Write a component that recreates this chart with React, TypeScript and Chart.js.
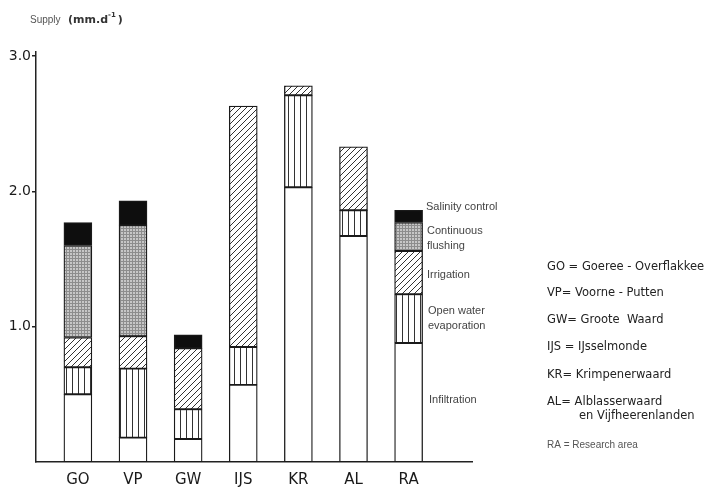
import React, { useEffect, useRef } from "react";
import { Chart, registerables } from "chart.js";

Chart.register(...registerables);

const categories = ["GO", "VP", "GW", "IJS", "KR", "AL", "RA"];
const infiltration = [0.5, 0.18, 0.17, 0.57, 2.03, 1.67, 0.88];
const openWater = [0.2, 0.51, 0.22, 0.28, 0.68, 0.19, 0.36];
const irrigation = [0.22, 0.24, 0.45, 1.78, 0.07, 0.47, 0.32];
const flushing = [0.68, 0.82, null, null, null, null, 0.21];
const salinity = [0.17, 0.18, 0.1, null, null, null, 0.09];
const yTicks = [1, 2, 3];
const segmentNames = ["Infiltration", "Open water evaporation", "Irrigation", "Continuous flushing", "Salinity control"];
const legendLines = [
  "GO = Goeree - Overflakkee",
  "VP= Voorne - Putten",
  "GW= Groote  Waard",
  "IJS = IJsselmonde",
  "KR= Krimpenerwaard",
  "AL= Alblasserwaard",
  "en Vijfheerenlanden",
  "RA = Research area",
];

function makeTile(w: number, h: number, draw: (c: CanvasRenderingContext2D) => void) {
  const cv = document.createElement("canvas");
  cv.width = w;
  cv.height = h;
  const c = cv.getContext("2d")!;
  draw(c);
  return c.createPattern(cv, "repeat")!;
}

export default function App() {
  const ref = useRef<HTMLCanvasElement | null>(null);
  useEffect(() => {
    document.body.style.margin = "0";
    const vertical = makeTile(6, 1, (c) => {
      c.fillStyle = "#fff";
      c.fillRect(0, 0, 6, 1);
      c.fillStyle = "#333";
      c.fillRect(0, 0, 1, 1);
    });
    const diagonal = makeTile(6, 6, (c) => {
      c.fillStyle = "#fff";
      c.fillRect(0, 0, 6, 6);
      c.strokeStyle = "#333";
      c.lineWidth = 1;
      c.beginPath();
      c.moveTo(0, 6);
      c.lineTo(6, 0);
      c.moveTo(-1, 1);
      c.lineTo(1, -1);
      c.moveTo(5, 7);
      c.lineTo(7, 5);
      c.stroke();
    });
    const stipple = makeTile(3, 3, (c) => {
      c.fillStyle = "#c6c6c6";
      c.fillRect(0, 0, 3, 3);
      c.fillStyle = "#8c8c8c";
      c.fillRect(0, 0, 3, 1);
      c.fillRect(0, 0, 1, 3);
    });
    const fills: any[] = ["#ffffff", vertical, diagonal, stipple, "#0e0e0e"];
    const series = [infiltration, openWater, irrigation, flushing, salinity];

    const textPlugin = {
      id: "texts",
      afterDraw(chart: any) {
        const ctx = chart.ctx as CanvasRenderingContext2D;
        ctx.save();
        ctx.textBaseline = "middle";
        ctx.textAlign = "left";
        // axis title
        ctx.fillStyle = "#555";
        ctx.font = "10px 'Liberation Sans'";
        ctx.fillText("Supply", 30, 20);
        ctx.fillStyle = "#333";
        ctx.font = "bold 11px 'DejaVu Sans'";
        ctx.fillText("(mm.d", 68, 20);
        let w = ctx.measureText("(mm.d").width;
        ctx.font = "bold 7px 'DejaVu Sans'";
        ctx.fillText("-1", 68 + w, 15);
        const w2 = ctx.measureText("-1").width;
        ctx.font = "bold 11px 'DejaVu Sans'";
        ctx.fillText(")", 68 + w + w2 + 2, 20);
        // segment labels
        ctx.fillStyle = "#444";
        ctx.font = "11px 'Liberation Sans'";
        ctx.fillText(segmentNames[4], 426, 207);
        ctx.fillText("Continuous", 427, 231);
        ctx.fillText("flushing", 427, 246);
        ctx.fillText(segmentNames[2], 427, 275);
        ctx.fillText("Open water", 428, 311);
        ctx.fillText("evaporation", 428, 326);
        ctx.fillText(segmentNames[0], 429, 400);
        // legend
        ctx.fillStyle = "#222";
        ctx.font = "11.5px 'DejaVu Sans'";
        const ys = [267, 293, 320, 347, 375, 402, 416];
        for (let i = 0; i < 7; i++) {
          ctx.fillText(legendLines[i], i === 6 ? 579 : 547, ys[i]);
        }
        ctx.fillStyle = "#555";
        ctx.font = "10px 'Liberation Sans'";
        ctx.fillText(legendLines[7], 547, 445);
        ctx.restore();
      },
    };

    const chart = new Chart(ref.current!, {
      type: "bar",
      data: {
        datasets: series.map((s, k) => ({
          label: segmentNames[k],
          data: s.map((v, i) => ({ x: i, y: v })) as any,
          backgroundColor: fills[k],
          borderColor: "#1a1a1a",
          borderWidth: 1.3,
          borderSkipped: false,
          barThickness: 28,
        })),
      },
      options: {
        responsive: false,
        animation: false,
        devicePixelRatio: 1,
        layout: { padding: { top: 52, right: 240, left: 0, bottom: 0 } },
        plugins: { legend: { display: false }, tooltip: { enabled: false }, title: { display: false } },
        scales: {
          x: {
            type: "linear",
            stacked: true,
            offset: false,
            min: -0.76,
            max: 7.15,
            afterBuildTicks: (scale: any) => {
              scale.ticks = categories.map((_, i) => ({ value: i }));
            },
            afterFit: (scale: any) => {
              scale.height = 28;
            },
            grid: { display: false },
            border: { display: true, color: "#222", width: 1.5 },
            ticks: {
              autoSkip: false,
              maxRotation: 0,
              padding: 1,
              color: "#1a1a1a",
              font: { family: "'DejaVu Sans'", size: 15 },
              callback: (v: any) => categories[v] ?? "",
            },
          },
          y: {
            stacked: true,
            min: 0,
            max: 3.03,
            afterBuildTicks: (scale: any) => {
              scale.ticks = yTicks.map((v) => ({ value: v }));
            },
            afterFit: (scale: any) => {
              scale.width = 36;
            },
            grid: { display: true, drawOnChartArea: false, drawTicks: true, tickLength: 4, color: "#222", lineWidth: 1.5 },
            border: { display: true, color: "#222", width: 1.5 },
            ticks: {
              padding: 1,
              color: "#1a1a1a",
              font: { family: "'DejaVu Sans'", size: 14 },
              callback: (v: any) => Number(v).toFixed(1),
            },
          },
        },
      },
      plugins: [textPlugin],
    });
    return () => chart.destroy();
  }, []);
  return (
    <div style={{ width: 712, height: 490, background: "#fff" }}>
      <canvas ref={ref} width={712} height={490} style={{ display: "block" }} />
    </div>
  );
}
